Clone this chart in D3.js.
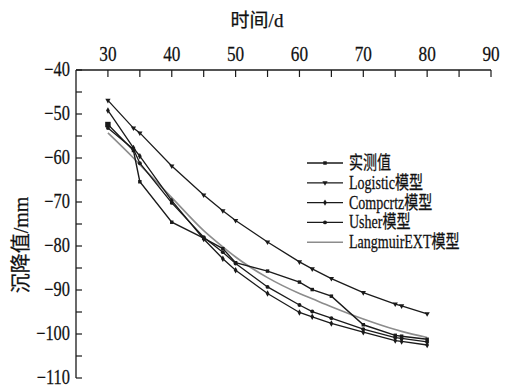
<!DOCTYPE html>
<html>
<head>
<meta charset="utf-8">
<script src="https://cdn.jsdelivr.net/npm/d3@7"></script>
<style>
  body { margin: 0; background: #fff; }
  svg text { font-family: "Liberation Serif", "Noto Sans CJK SC", serif; fill: #111; stroke: #111; stroke-width: 0.25; }
  .sq { transform-box: fill-box; transform-origin: center; }
  .sqr { transform-box: fill-box; transform-origin: right center; }
  .sql { transform-box: fill-box; transform-origin: left center; }
</style>
</head>
<body>
<svg id="viz"></svg>
<script>
// ---------------------------
// Data
// ---------------------------

const days = [30, 34, 35, 40, 45, 48, 50, 55, 60, 62, 65, 70, 75, 76, 80];

const measured   = [-52.4, -58.3, -65.4, -74.6, -78.2, -80.6, -83.8, -85.7, -88.2, -89.9, -91.4, -97.9, -100.3, -100.5, -101.2];
const logistic   = [-46.9, -53.2, -54.3, -61.8, -68.4, -72.0, -74.2, -79.1, -83.6, -85.2, -87.4, -90.6, -93.2, -93.6, -95.4];
const compertz   = [-49.2, -57.7, -59.6, -69.7, -78.4, -82.9, -85.5, -90.8, -95.1, -96.1, -97.6, -99.6, -101.5, -101.7, -102.5];
const usher      = [-53.2, -58.0, -61.2, -70.2, -78.0, -81.4, -84.0, -89.3, -93.4, -94.9, -96.4, -98.9, -100.8, -101.0, -101.8];
const langmuir   = [-54.3, -60.0, -61.5, -69.0, -76.5, -80.2, -82.5, -87.2, -90.8, -92.0, -93.8, -96.6, -99.0, -99.4, -100.8];

const seriesNames = ["实测值", "Logistic模型", "Compcrtz模型", "Usher模型", "LangmuirEXT模型"];

const xTicks = [30, 40, 50, 60, 70, 80, 90];
const yTicks = [-40, -50, -60, -70, -80, -90, -100, -110];

// ---------------------------
// Create SVG
// ---------------------------

const width = 511;
const height = 388;

const svg = d3.select("#viz")
    .attr("width", width)
    .attr("height", height);

const x = d3.scaleLinear().domain([25, 90]).range([76, 491]);
const y = d3.scaleLinear().domain([-40, -110]).range([70, 378]);

const dark = "#1a1a1a";

// axes (left and top only, ticks inward)

svg.append("line")
    .attr("x1", x(25)).attr("x2", x(90))
    .attr("y1", y(-40)).attr("y2", y(-40))
    .attr("stroke", dark).attr("stroke-width", 1.3);

svg.append("line")
    .attr("x1", x(25)).attr("x2", x(25))
    .attr("y1", y(-40)).attr("y2", y(-110))
    .attr("stroke", dark).attr("stroke-width", 1.3);

const xAll = d3.range(30, 91, 5);
svg.selectAll(".xt")
    .data(xAll)
    .join("line")
    .attr("x1", d => x(d)).attr("x2", d => x(d))
    .attr("y1", y(-40)).attr("y2", y(-40) + 7)
    .attr("stroke", dark).attr("stroke-width", 1.2);

const yAll = d3.range(-40, -111, -5);
svg.selectAll(".yt")
    .data(yAll)
    .join("line")
    .attr("x1", x(25)).attr("x2", x(25) + 6)
    .attr("y1", d => y(d)).attr("y2", d => y(d))
    .attr("stroke", dark).attr("stroke-width", 1.2);

const fmt = d => d < 0 ? "\u2212" + Math.abs(d) : String(d);

svg.selectAll(".xl")
    .data(xTicks)
    .join("text")
    .attr("class", "sq")
    .attr("x", d => x(d))
    .attr("y", 61)
    .attr("text-anchor", "middle")
    .style("font-size", "21px")
    .style("transform", "scaleX(0.82)")
    .text(fmt);

svg.selectAll(".yl")
    .data(yTicks)
    .join("text")
    .attr("class", "sqr")
    .attr("x", 70)
    .attr("y", d => y(d))
    .attr("dy", "0.28em")
    .attr("text-anchor", "end")
    .style("font-size", "20px")
    .style("transform", "scaleX(0.82)")
    .text(fmt);

// axis titles

svg.append("text")
    .attr("x", 257)
    .attr("y", 27)
    .attr("text-anchor", "middle")
    .style("font-size", "19px")
    .text("时间/d");

svg.append("text")
    .attr("transform", `translate(28,245) rotate(-90)`)
    .attr("text-anchor", "middle")
    .style("font-size", "20px")
    .text("沉降值/mm");

// ---------------------------
// Lines
// ---------------------------

const series = [
    {name: seriesNames[0], values: measured, color: dark, w: 1.4, mark: "square"},
    {name: seriesNames[1], values: logistic, color: dark, w: 1.3, mark: "triangle"},
    {name: seriesNames[2], values: compertz, color: dark, w: 1.3, mark: "diamond"},
    {name: seriesNames[3], values: usher, color: dark, w: 1.3, mark: "circle"},
    {name: seriesNames[4], values: langmuir, color: "#8c8c8c", w: 1.6, mark: null}
];

const line = d3.line()
    .x(d => x(d[0]))
    .y(d => y(d[1]));

const lineSmooth = d3.line()
    .x(d => x(d[0]))
    .y(d => y(d[1]))
    .curve(d3.curveMonotoneX);

const symbolType = {
    square: d3.symbolSquare,
    triangle: d3.symbolTriangle,
    diamond: d3.symbolDiamond,
    circle: d3.symbolCircle
};

// draw gray first so black lines sit on top
[4, 0, 1, 2, 3].forEach(i => {
    const s = series[i];
    const pts = days.map((d, j) => [d, s.values[j]]);

    svg.append("path")
        .attr("d", s.mark ? line(pts) : lineSmooth(pts))
        .attr("fill", "none")
        .attr("stroke", s.color)
        .attr("stroke-width", s.w);

    if (s.mark) {
        svg.selectAll(null)
            .data(pts)
            .join("path")
            .attr("transform", d => `translate(${x(d[0])},${y(d[1])})` + (s.mark === "triangle" ? " rotate(180)" : ""))
            .attr("d", (d, j) => d3.symbol(symbolType[s.mark], (i === 0 && j === 0) ? 30 : 12)())
            .attr("fill", s.color);
    }
});

// ---------------------------
// Legend
// ---------------------------

const legend = svg.append("g");

series.forEach((s, i) => {
    const ly = 163 + i * 19.8;

    legend.append("line")
        .attr("x1", 307).attr("x2", 343)
        .attr("y1", ly).attr("y2", ly)
        .attr("stroke", s.color)
        .attr("stroke-width", s.w);

    if (s.mark) {
        legend.append("path")
            .attr("transform", `translate(325,${ly})` + (s.mark === "triangle" ? " rotate(180)" : ""))
            .attr("d", d3.symbol(symbolType[s.mark], 12)())
            .attr("fill", s.color);
    }

    legend.append("text")
        .attr("class", "sql")
        .attr("x", 349)
        .attr("y", ly)
        .attr("dy", "0.33em")
        .style("font-size", "18px")
        .style("transform", "scaleX(0.78)")
        .text(s.name);
});
</script>
</body>
</html>
